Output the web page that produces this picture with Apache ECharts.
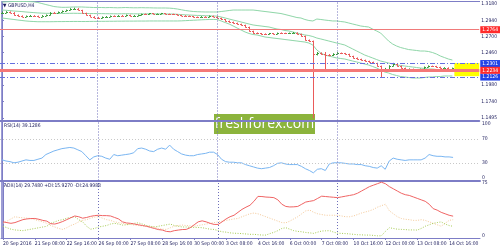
<!DOCTYPE html>
<html><head><meta charset="utf-8">
<script src="https://cdn.jsdelivr.net/npm/echarts@6/dist/echarts.min.js"></script>
<style>html,body{margin:0;padding:0;background:#fff}#c{width:500px;height:250px}</style>
</head><body><div id="c"></div><script>
// ---- data ----
const timeLabels = ['20 Sep 2016','21 Sep 08:00','22 Sep 16:00','26 Sep 00:00','27 Sep 08:00','28 Sep 16:00','30 Sep 00:00','3 Oct 08:00','4 Oct 16:00','6 Oct 00:00','7 Oct 08:00','10 Oct 16:00','12 Oct 00:00','13 Oct 08:00','14 Oct 16:00'];
const labelBars = [0,8,16,24,32,40,48,56,64,72,80,88,96,104,112];
const weekStarts = [24,54,84];
const priceTicks = [1.1495,1.1740,1.1980,1.2460,1.2700,1.2940,1.3180];
const rsiTicks = [0,30,70,100];
const adxTicks = [0,75];
const levelRed = 1.2764, levelBlueHi = 1.2301, levelCur = 1.2234, levelBlueLo = 1.2126, levelBlueLo2 = 1.2108;

const opens = [1.3050,1.3054,1.3062,1.3054,1.3017,1.3003,1.2995,1.3003,1.3010,1.3003,
 1.2995,1.3010,1.3017,1.3054,1.3050,1.3062,1.3077,1.3091,1.3106,1.3113,
 1.3091,1.3047,1.3017,1.2995,1.2980,1.2973,1.2988,1.2995,1.3003,1.2999,
 1.3010,1.3006,1.3017,1.3003,1.3010,1.3017,1.3032,1.3028,1.3040,1.3032,
 1.3035,1.3040,1.3032,1.3030,1.3025,1.3017,1.3010,1.3003,1.3000,1.2988,
 1.2985,1.2995,1.2988,1.3003,1.2995,1.2973,1.2951,1.2929,1.2914,1.2899,
 1.2884,1.2870,1.2840,1.2781,1.2751,1.2744,1.2737,1.2735,1.2744,1.2737,
 1.2751,1.2748,1.2744,1.2751,1.2758,1.2737,1.2707,1.2648,1.2633,1.2441,
 1.2456,1.2441,1.2426,1.2420,1.2441,1.2456,1.2450,1.2441,1.2411,1.2382,
 1.2367,1.2352,1.2337,1.2323,1.2308,1.2264,1.2204,1.2219,1.2264,1.2293,
 1.2264,1.2234,1.2204,1.2219,1.2204,1.2190,1.2219,1.2249,1.2264,1.2260,
 1.2249,1.2234,1.2238,1.2225];
const closes = [1.3054,1.3062,1.3054,1.3017,1.3003,1.2995,1.3003,1.3010,1.3003,1.2995,
 1.3010,1.3017,1.3054,1.3050,1.3062,1.3077,1.3091,1.3106,1.3113,1.3091,
 1.3047,1.3017,1.2995,1.2980,1.2973,1.2988,1.2995,1.3003,1.2999,1.3010,
 1.3006,1.3017,1.3003,1.3010,1.3017,1.3032,1.3028,1.3040,1.3032,1.3035,
 1.3040,1.3032,1.3030,1.3025,1.3017,1.3010,1.3003,1.3000,1.2988,1.2985,
 1.2995,1.2988,1.3003,1.2995,1.2973,1.2951,1.2929,1.2914,1.2899,1.2884,
 1.2870,1.2840,1.2781,1.2751,1.2744,1.2737,1.2735,1.2744,1.2737,1.2751,
 1.2748,1.2744,1.2751,1.2758,1.2737,1.2707,1.2648,1.2633,1.2441,1.2456,
 1.2441,1.2426,1.2420,1.2441,1.2456,1.2450,1.2441,1.2411,1.2382,1.2367,
 1.2352,1.2337,1.2323,1.2308,1.2264,1.2204,1.2219,1.2264,1.2293,1.2264,
 1.2234,1.2204,1.2219,1.2204,1.2190,1.2219,1.2249,1.2264,1.2260,1.2249,
 1.2234,1.2238,1.2225,1.2234];
const highs = [1.3068,1.3074,1.3071,1.3060,1.3025,1.3012,1.3010,1.3018,1.3015,1.3008,
 1.3016,1.3025,1.3060,1.3063,1.3070,1.3085,1.3098,1.3118,1.3125,1.3120,
 1.3095,1.3052,1.3022,1.3000,1.2990,1.2995,1.3002,1.3010,1.3012,1.3016,
 1.3018,1.3024,1.3022,1.3016,1.3024,1.3038,1.3040,1.3047,1.3045,1.3041,
 1.3048,1.3044,1.3038,1.3036,1.3030,1.3022,1.3015,1.3010,1.3004,1.2995,
 1.3001,1.3000,1.3010,1.3008,1.3000,1.2978,1.2957,1.2935,1.2920,1.2905,
 1.2890,1.2875,1.2845,1.2786,1.2760,1.2752,1.2746,1.2752,1.2750,1.2758,
 1.2760,1.2755,1.2758,1.2766,1.2762,1.2742,1.2712,1.2655,1.2640,1.2470,
 1.2465,1.2470,1.2440,1.2452,1.2468,1.2462,1.2457,1.2446,1.2416,1.2390,
 1.2372,1.2358,1.2342,1.2328,1.2312,1.2270,1.2235,1.2275,1.2310,1.2300,
 1.2270,1.2240,1.2228,1.2226,1.2210,1.2226,1.2256,1.2272,1.2270,1.2266,
 1.2254,1.2246,1.2244,1.2240];
const lows = [1.3041,1.3047,1.3045,1.3008,1.2994,1.2986,1.2990,1.2998,1.2995,1.2988,
 1.2992,1.3004,1.3012,1.3042,1.3046,1.3058,1.3072,1.3088,1.3098,1.3085,
 1.3040,1.3010,1.2988,1.2972,1.2960,1.2968,1.2982,1.2990,1.2992,1.2994,
 1.3000,1.3002,1.2996,1.2998,1.3005,1.3012,1.3020,1.3024,1.3026,1.3027,
 1.3030,1.3026,1.3022,1.3018,1.3010,1.3002,1.2996,1.2992,1.2980,1.2976,
 1.2980,1.2981,1.2984,1.2988,1.2966,1.2944,1.2921,1.2905,1.2890,1.2876,
 1.2861,1.2832,1.2772,1.2740,1.2735,1.2726,1.2724,1.2730,1.2729,1.2732,
 1.2740,1.2736,1.2738,1.2744,1.2728,1.2698,1.2640,1.2622,1.1491,1.2420,
 1.2430,1.2204,1.2408,1.2412,1.2434,1.2440,1.2432,1.2402,1.2374,1.2358,
 1.2344,1.2328,1.2314,1.2298,1.2255,1.2101,1.2190,1.2212,1.2258,1.2255,
 1.2225,1.2195,1.2198,1.2196,1.2180,1.2186,1.2214,1.2244,1.2250,1.2240,
 1.2226,1.2228,1.2218,1.2220];
const bandUpper = [1.3209,1.3212,1.3215,1.3217,1.3217,1.3217,1.3217,1.3215,1.3212,1.3202,
 1.3187,1.3172,1.3158,1.3143,1.3136,1.3131,1.3131,1.3133,1.3136,1.3136,
 1.3136,1.3133,1.3131,1.3128,1.3128,1.3128,1.3126,1.3128,1.3126,1.3124,
 1.3126,1.3128,1.3126,1.3124,1.3124,1.3126,1.3124,1.3124,1.3122,1.3121,
 1.3121,1.3121,1.3119,1.3114,1.3106,1.3095,1.3084,1.3076,1.3069,1.3066,
 1.3064,1.3062,1.3062,1.3062,1.3062,1.3069,1.3076,1.3084,1.3091,1.3091,
 1.3091,1.3091,1.3091,1.3091,1.3084,1.3076,1.3069,1.3062,1.3054,1.3047,
 1.3039,1.3025,1.3010,1.2995,1.2980,1.2973,1.2951,1.2936,1.2929,1.2958,
 1.2951,1.2943,1.2936,1.2929,1.2929,1.2921,1.2914,1.2899,1.2884,1.2870,
 1.2855,1.2847,1.2840,1.2810,1.2781,1.2751,1.2692,1.2633,1.2589,1.2559,
 1.2537,1.2522,1.2507,1.2500,1.2493,1.2485,1.2485,1.2478,1.2463,1.2441,
 1.2411,1.2389,1.2367,1.2352];
const bandMiddle = [1.3091,1.3087,1.3082,1.3076,1.3072,1.3068,1.3062,1.3057,1.3053,1.3048,
 1.3045,1.3042,1.3042,1.3041,1.3040,1.3040,1.3041,1.3042,1.3043,1.3042,
 1.3041,1.3040,1.3039,1.3039,1.3038,1.3038,1.3037,1.3036,1.3036,1.3035,
 1.3036,1.3037,1.3036,1.3035,1.3035,1.3034,1.3034,1.3035,1.3035,1.3034,
 1.3033,1.3033,1.3032,1.3032,1.3028,1.3023,1.3020,1.3017,1.3014,1.3011,
 1.3010,1.3007,1.3005,1.3003,1.3000,1.2988,1.2973,1.2958,1.2943,1.2929,
 1.2914,1.2899,1.2884,1.2870,1.2862,1.2855,1.2847,1.2840,1.2825,1.2810,
 1.2803,1.2788,1.2781,1.2766,1.2751,1.2736,1.2722,1.2714,1.2699,1.2677,
 1.2663,1.2648,1.2633,1.2618,1.2603,1.2589,1.2574,1.2544,1.2515,1.2485,
 1.2456,1.2426,1.2404,1.2382,1.2359,1.2337,1.2323,1.2308,1.2293,1.2278,
 1.2271,1.2264,1.2256,1.2249,1.2241,1.2234,1.2227,1.2219,1.2219,1.2212,
 1.2212,1.2204,1.2204,1.2204];
const bandLower = [1.2973,1.2966,1.2958,1.2951,1.2943,1.2936,1.2929,1.2924,1.2921,1.2918,
 1.2918,1.2918,1.2918,1.2919,1.2920,1.2920,1.2921,1.2921,1.2922,1.2922,
 1.2921,1.2921,1.2922,1.2923,1.2923,1.2924,1.2924,1.2925,1.2925,1.2926,
 1.2926,1.2927,1.2927,1.2927,1.2928,1.2928,1.2928,1.2929,1.2929,1.2929,
 1.2929,1.2929,1.2929,1.2929,1.2929,1.2931,1.2934,1.2937,1.2940,1.2943,
 1.2946,1.2949,1.2951,1.2952,1.2951,1.2929,1.2906,1.2884,1.2855,1.2825,
 1.2795,1.2766,1.2744,1.2729,1.2722,1.2707,1.2692,1.2685,1.2677,1.2670,
 1.2663,1.2655,1.2648,1.2640,1.2633,1.2625,1.2618,1.2603,1.2574,1.2500,
 1.2456,1.2426,1.2411,1.2397,1.2382,1.2374,1.2367,1.2352,1.2337,1.2323,
 1.2308,1.2293,1.2278,1.2256,1.2234,1.2204,1.2175,1.2160,1.2138,1.2123,
 1.2108,1.2101,1.2094,1.2086,1.2086,1.2086,1.2094,1.2101,1.2101,1.2108,
 1.2108,1.2116,1.2116,1.2116];
const rsi = [35,33,32,30,31,33,35,34,34,36,
 38,44,47,50,52,54,55,56,55,52,
 49,42,35,40,42,41,38,36,44,42,
 43,44,45,47,54,55,53,50,49,53,
 55,53,60,53,49,45,43,42,42,44,
 45,46,48,48,44,36,32,31,31,30,
 30,27,25,23,21,20,21,22,25,29,
 30,28,27,27,27,24,20,17,13,19,
 20,17,28,30,30,30,29,28,28,27,
 27,25,24,22,21,25,19,33,38,36,
 35,34,35,35,35,35,38,44,42,41,
 41,40,40,39.13];
const adx = [22,21,20,21,23,25,26,26.5,26.6,25.5,
 24,23,19.5,19,20.5,22.5,25,27.5,30,29,
 27,28,29.5,30.5,31,30.5,30.5,30,28,26,
 22,20.5,20,19,18,17,16,14.5,13,11.5,
 10.8,9,8.5,10,10.8,11.5,11.7,14,18,22,
 23.4,22,20,18.5,18.5,22,26,29,31,35,
 39,42,44.6,50,56.7,56.5,55.8,55.5,55,52,
 46,43,42.3,42.5,43,46,49,50,51,54,
 57,56.5,56,55.5,55,56,57,58,59,61,
 64,67,70,72,74,76,74,70,67,64,
 61,59,58,56,54,52,50,46,40,38,
 35,33,31,29.75];
const plusDI = [16,14,12,11,10.5,10,11,12,13,14,
 15,16,20,22,24,25,27,28,29,25,
 22,16,12,13,15,16,17,19,20,19,
 17.6,18,19,20,20.7,19,17,16,15,16,
 17,18,19,17,16,15,15,14.5,14.5,14.4,
 14,13,12,11.7,10,8.5,8,7,6.5,6.3,
 6,5.5,5,5,4.5,4,4,6,7.7,10,
 13,14,12,10,9,8.5,7.5,7,6.3,8,
 9.5,9.8,10,8,6.5,6.3,6,5.5,5,4.5,
 4.3,4,4,3.5,3,3,9,14,13,12,
 11.7,11.5,11,11,10.8,13,16,18,20,21,
 22,19,17,15.93];
const minusDI = [20,23,26,29,28,27.5,27,26.6,25,23.5,
 22,20,17,15,13,11.7,14,17,19,22,
 24,25,27,28.5,29,27,25,24,22,21,
 20,19,18.5,17.6,17,16.5,16,15.5,15,13,
 12,11.7,14,16,17,17.6,17,16.5,16,17,
 18,19,20,21,22,23,24,25,26,26.6,
 29,31,33,34,33,31,29,27,25,23,
 21,20.7,23,26,29,33,37,38,35,33,
 32,31,31,31,31,30,29,29,30,32,
 34,35.5,37,39,42,44,46,37,33,29,
 26.6,25.5,25,24,24,25,24,22,20,18,
 16,20,24,25];

// ---- chart ----
const FRAME = '#7d7dc6', TXT = '#1c1c5c';
const FONT = '"Liberation Sans Narrow","DejaVu Sans Condensed","Liberation Sans",sans-serif';
const FS = 5;
const pair = arr => arr.map((v, i) => [i, v]);
const ohlc = closes.map((c, i) => [i, opens[i], c, lows[i], highs[i]]);
const sepLine = { silent: true, symbol: 'none', animation: false, label: { show: false },
  lineStyle: { color: '#6e6eba', type: [1, 2], width: 1 },
  data: weekStarts.map(i => ({ xAxis: i })) };

const chart = echarts.init(document.getElementById('c'), null, { renderer: 'canvas', width: 500, height: 250 });

const xAxes = [0, 1, 2].map(gi => ({
  gridIndex: gi, type: 'value', min: -0.5, max: 119.75,
  axisLine: { show: true, onZero: false, lineStyle: { color: FRAME, width: gi < 2 ? 2 : 1 } },
  axisTick: { show: gi === 2, customValues: labelBars, length: 2, lineStyle: { color: FRAME } },
  axisLabel: { show: gi === 2, customValues: labelBars, formatter: v => timeLabels[labelBars.indexOf(v)] || '',
    align: 'left', color: TXT, fontSize: FS, fontFamily: FONT, margin: 3,
    showMinLabel: true, showMaxLabel: true, hideOverlap: false },
  splitLine: { show: false }
}));
function yAx(gi, min, max, ticks, fmt, extra) {
  return Object.assign({
    gridIndex: gi, type: 'value', position: 'right', min, max,
    axisLine: { show: true, lineStyle: { color: FRAME, width: 1 } },
    axisTick: { show: true, length: 2, customValues: ticks, lineStyle: { color: FRAME } },
    axisLabel: Object.assign({ show: true, customValues: ticks, formatter: fmt, color: TXT,
      fontSize: FS, fontFamily: FONT, margin: 2, showMinLabel: true, showMaxLabel: true, hideOverlap: false }, extra || {}),
    splitLine: { show: false }
  });
}
const boxLabel = (txt, bg) => ({ show: true, formatter: txt, position: 'end', distance: 1,
  backgroundColor: bg, color: '#fff', fontSize: FS, fontFamily: FONT, padding: [1, 2, 1, 2] });

const txtStyle = { fontSize: FS, color: TXT, fontWeight: 'normal', fontFamily: FONT };

chart.setOption({
  animation: false,
  backgroundColor: '#ffffff',
  title: [
    { text: '▼ GBPUSD,H4', left: 3, top: 3, padding: 0, textStyle: txtStyle },
    { text: 'RSI(14) 39.1286', left: 4, top: 123.5, padding: 0, textStyle: txtStyle },
    { text: 'ADX(14) 29.7480 +DI:15.9270 -DI:24.9988', left: 4, top: 183, padding: 0, textStyle: txtStyle }
  ],
  grid: [
    { left: -1, width: 481, top: 1.5, height: 119 },
    { left: -1, width: 481, top: 121.5, height: 59 },
    { left: -1, width: 481, top: 181.5, height: 56.5 }
  ],
  xAxis: xAxes,
  yAxis: [
    yAx(0, 1.1458, 1.3217, priceTicks, v => v.toFixed(4)),
    yAx(1, 0, 100, rsiTicks, v => String(v), { verticalAlignMaxLabel: 'top', verticalAlignMinLabel: 'bottom' }),
    yAx(2, 0, 77, adxTicks, v => String(v), { verticalAlignMinLabel: 'bottom' })
  ],
  series: [
    { type: 'line', xAxisIndex: 0, yAxisIndex: 0, data: pair(bandLower), symbol: 'none',
      lineStyle: { color: '#8fd6a8', width: 1 }, z: 1,
      markArea: { silent: true, itemStyle: { color: '#ffff00' },
        data: [[{ xAxis: 113.5, yAxis: 1.2306 }, { xAxis: 119.75, yAxis: 1.2113 }]] } },
    { type: 'line', xAxisIndex: 0, yAxisIndex: 0, data: pair(bandMiddle), symbol: 'none',
      lineStyle: { color: '#8fd6a8', width: 1 }, z: 1 },
    { type: 'line', xAxisIndex: 0, yAxisIndex: 0, data: pair(bandUpper), symbol: 'none',
      lineStyle: { color: '#8fd6a8', width: 1 }, z: 1, markLine: sepLine },
    { type: 'custom', xAxisIndex: 0, yAxisIndex: 0, data: ohlc, z: 3, clip: true,
      encode: { x: 0, y: [1, 2, 3, 4] },
      renderItem: (params, api) => {
        const i = api.value(0);
        const o = api.coord([i, api.value(1)]), c = api.coord([i, api.value(2)]);
        const l = api.coord([i, api.value(3)]), h = api.coord([i, api.value(4)]);
        const col = api.value(2) >= api.value(1) ? '#3a9c3a' : '#ea5a5a';
        const x = Math.round(h[0]) + 0.5;
        const st = { stroke: col, lineWidth: 1 };
        const oy = Math.round(o[1]) + 0.5, cy = Math.round(c[1]) + 0.5;
        return { type: 'group', children: [
          { type: 'line', shape: { x1: x, y1: h[1], x2: x, y2: l[1] }, style: st },
          { type: 'line', shape: { x1: x - 1.5, y1: oy, x2: x, y2: oy }, style: st },
          { type: 'line', shape: { x1: x, y1: cy, x2: x + 1.5, y2: cy }, style: st }
        ] };
      },
      markLine: { silent: true, symbol: 'none', animation: false,
        data: [
          { yAxis: levelRed, lineStyle: { color: '#f07a7a', width: 1, type: 'solid' }, label: boxLabel('1.2764', '#ff2b2b') },
          { yAxis: levelBlueHi, lineStyle: { color: '#6670e0', width: 1, type: [5, 2, 1, 2] }, label: boxLabel('1.2301', '#2244e8') },
          { yAxis: levelBlueLo2, lineStyle: { color: '#6670e0', width: 1, type: [5, 2, 1, 2] }, label: { show: false } },
          { yAxis: levelBlueLo, lineStyle: { color: '#6670e0', width: 1, type: [5, 2, 1, 2] }, label: boxLabel('1.2126', '#2244e8') },
          { yAxis: levelCur, lineStyle: { color: '#f47878', width: 3, type: 'solid' }, label: boxLabel('1.2234', '#ff2b2b') }
        ] } },
    { type: 'line', xAxisIndex: 1, yAxisIndex: 1, data: pair(rsi), symbol: 'none',
      lineStyle: { color: '#7ab6f2', width: 1 },
      markLine: { silent: true, symbol: 'none', animation: false, label: { show: false },
        data: [
          { yAxis: 30, lineStyle: { color: '#c8c8c8', type: [1, 2], width: 1 } },
          { yAxis: 70, lineStyle: { color: '#c8c8c8', type: [1, 2], width: 1 } },
          ...weekStarts.map(i => ({ xAxis: i, lineStyle: { color: '#6e6eba', type: [1, 2], width: 1 } }))
        ] } },
    { type: 'line', xAxisIndex: 2, yAxisIndex: 2, data: pair(minusDI), symbol: 'none',
      lineStyle: { color: '#f5c998', width: 1, type: [1, 1.5] } },
    { type: 'line', xAxisIndex: 2, yAxisIndex: 2, data: pair(plusDI), symbol: 'none',
      lineStyle: { color: '#a8cc55', width: 1, type: [1, 1.5] } },
    { type: 'line', xAxisIndex: 2, yAxisIndex: 2, data: pair(adx), symbol: 'none',
      lineStyle: { color: '#f06464', width: 1 }, markLine: sepLine }
  ],
  graphic: [
    { type: 'line', silent: true, shape: { x1: 2, y1: 1, x2: 2, y2: 238 }, style: { stroke: FRAME, lineWidth: 1.5 } },
    { type: 'line', silent: true, shape: { x1: 2, y1: 1.5, x2: 480, y2: 1.5 }, style: { stroke: FRAME, lineWidth: 1 } },
    { type: 'group', left: 214, top: 114, z: 100, children: [
      { type: 'rect', shape: { x: 0, y: 0, width: 101, height: 20 }, style: { fill: '#8cb43c' } },
      { type: 'text', x: 50.5, y: 10, style: { text: 'freshforex.com', fill: '#ffffff', font: '14px "Open Sans", sans-serif',
        align: 'center', verticalAlign: 'middle' } }
    ] }
  ]
});
</script></body></html>
